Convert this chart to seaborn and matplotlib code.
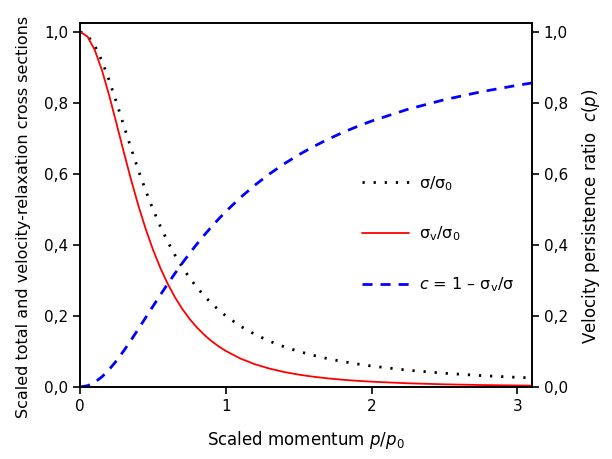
import matplotlib
matplotlib.use("Agg")
import pandas as pd
import seaborn as sns
import matplotlib.pyplot as plt

# values
p = [0, 0.05, 0.1, 0.15, 0.2, 0.25, 0.3, 0.35, 0.4, 0.45, 0.5, 0.55, 0.6, 0.65, 0.7,
     0.75, 0.8, 0.85, 0.9, 0.95, 1.0, 1.1, 1.2, 1.3, 1.4, 1.5, 1.6, 1.7, 1.8, 1.9,
     2.0, 2.25, 2.5, 2.75, 3.0, 3.1]
sigma_total = [1.0, 0.990, 0.9615, 0.9174, 0.8621, 0.800, 0.7353, 0.6711, 0.6098, 0.5525,
               0.500, 0.4525, 0.4098, 0.3717, 0.3378, 0.3077, 0.2809, 0.2571, 0.2358,
               0.2169, 0.200, 0.1712, 0.1479, 0.1289, 0.1131, 0.100, 0.0890, 0.0796,
               0.0716, 0.0648, 0.0588, 0.0471, 0.0385, 0.0320, 0.0270, 0.0254]
sigma_v = [1.0, 0.9868, 0.9490, 0.8911, 0.8195, 0.7406, 0.6602, 0.5824, 0.5100, 0.4445,
           0.3863, 0.3353, 0.2911, 0.2530, 0.2202, 0.1921, 0.1680, 0.1474, 0.1296,
           0.1144, 0.1012, 0.0799, 0.0638, 0.0516, 0.0421, 0.0346, 0.0288, 0.0241,
           0.0203, 0.0173, 0.0148, 0.0103, 0.0073, 0.0054, 0.0041, 0.0037]
c_ratio = [0.0, 0.0033, 0.0131, 0.0287, 0.0494, 0.0742, 0.1022, 0.1322, 0.1636, 0.1955,
           0.2274, 0.2589, 0.2897, 0.3194, 0.3481, 0.3756, 0.4017, 0.4267, 0.4504,
           0.4728, 0.4941, 0.5333, 0.5685, 0.6000, 0.6283, 0.6537, 0.6766, 0.6973,
           0.7161, 0.7332, 0.7487, 0.7820, 0.8089, 0.8310, 0.8494, 0.8559]

yticks = [0, 0.2, 0.4, 0.6, 0.8, 1.0]
ytick_labels = ["0,0", "0,2", "0,4", "0,6", "0,8", "1,0"]
xticks = [0, 1, 2, 3]
xtick_labels = ["0", "1", "2", "3"]

df = pd.DataFrame({"p": p, "sigma": sigma_total, "sigma_v": sigma_v, "c": c_ratio})

sns.set_style("ticks")
plt.rcParams["font.family"] = ["DejaVu Sans"]
plt.rcParams["mathtext.default"] = "regular"
plt.rcParams["font.size"] = 11
plt.rcParams["text.color"] = "black"
plt.rcParams["axes.labelcolor"] = "black"

fig, ax = plt.subplots(figsize=(6.12, 4.59), dpi=100)
fig.subplots_adjust(left=0.131, right=0.869, bottom=0.157, top=0.95)
ax2 = ax.twinx()

sns.lineplot(data=df, x="p", y="sigma", ax=ax, color="black", linewidth=2,
             linestyle=(0, (0.8, 3.2)), legend=False)
sns.lineplot(data=df, x="p", y="sigma_v", ax=ax, color="#ff0000", linewidth=1.3,
             legend=False)
sns.lineplot(data=df, x="p", y="c", ax=ax2, color="#0000ff", linewidth=2,
             linestyle=(0, (3.6, 2.9)), legend=False)

for a in (ax, ax2):
    a.set_xlim(0, 3.1)
    a.set_ylim(0, 1.025)
    a.set_yticks(yticks)
    a.set_yticklabels(ytick_labels)
    for s in a.spines.values():
        s.set_linewidth(1.2)
        s.set_color("black")
    a.tick_params(length=5, width=1.2, colors="black", labelcolor="black", labelsize=11)

ax.set_xticks(xticks)
ax.set_xticklabels(xtick_labels)
ax.set_xlabel("Scaled momentum $\\mathit{p}$/$\\mathit{p}_0$", fontsize=12, labelpad=11)
ax.set_ylabel("Scaled total and velocity-relaxation cross sections", fontsize=11.5)
ax.yaxis.set_label_coords(-0.108, 0.468)
ax2.set_ylabel("Velocity persistence ratio  $\\mathit{c}$($\\mathit{p}$)", fontsize=12)
ax2.yaxis.set_label_coords(1.106, 0.468)

handles = ax.get_lines() + ax2.get_lines()
labels = ["σ/σ$_0$", "σ$_v$/σ$_0$", "$\\mathit{c}$ = 1 – σ$_v$/σ"]
leg = ax.legend(handles, labels, loc="upper left", bbox_to_anchor=(0.623, 0.585),
                frameon=False, borderpad=0, borderaxespad=0, handlelength=3.0,
                handletextpad=0.6, labelspacing=2.0, fontsize=11.5)
for t in leg.get_texts():
    t.set_color("black")

fig.savefig("out.png", dpi=100)
